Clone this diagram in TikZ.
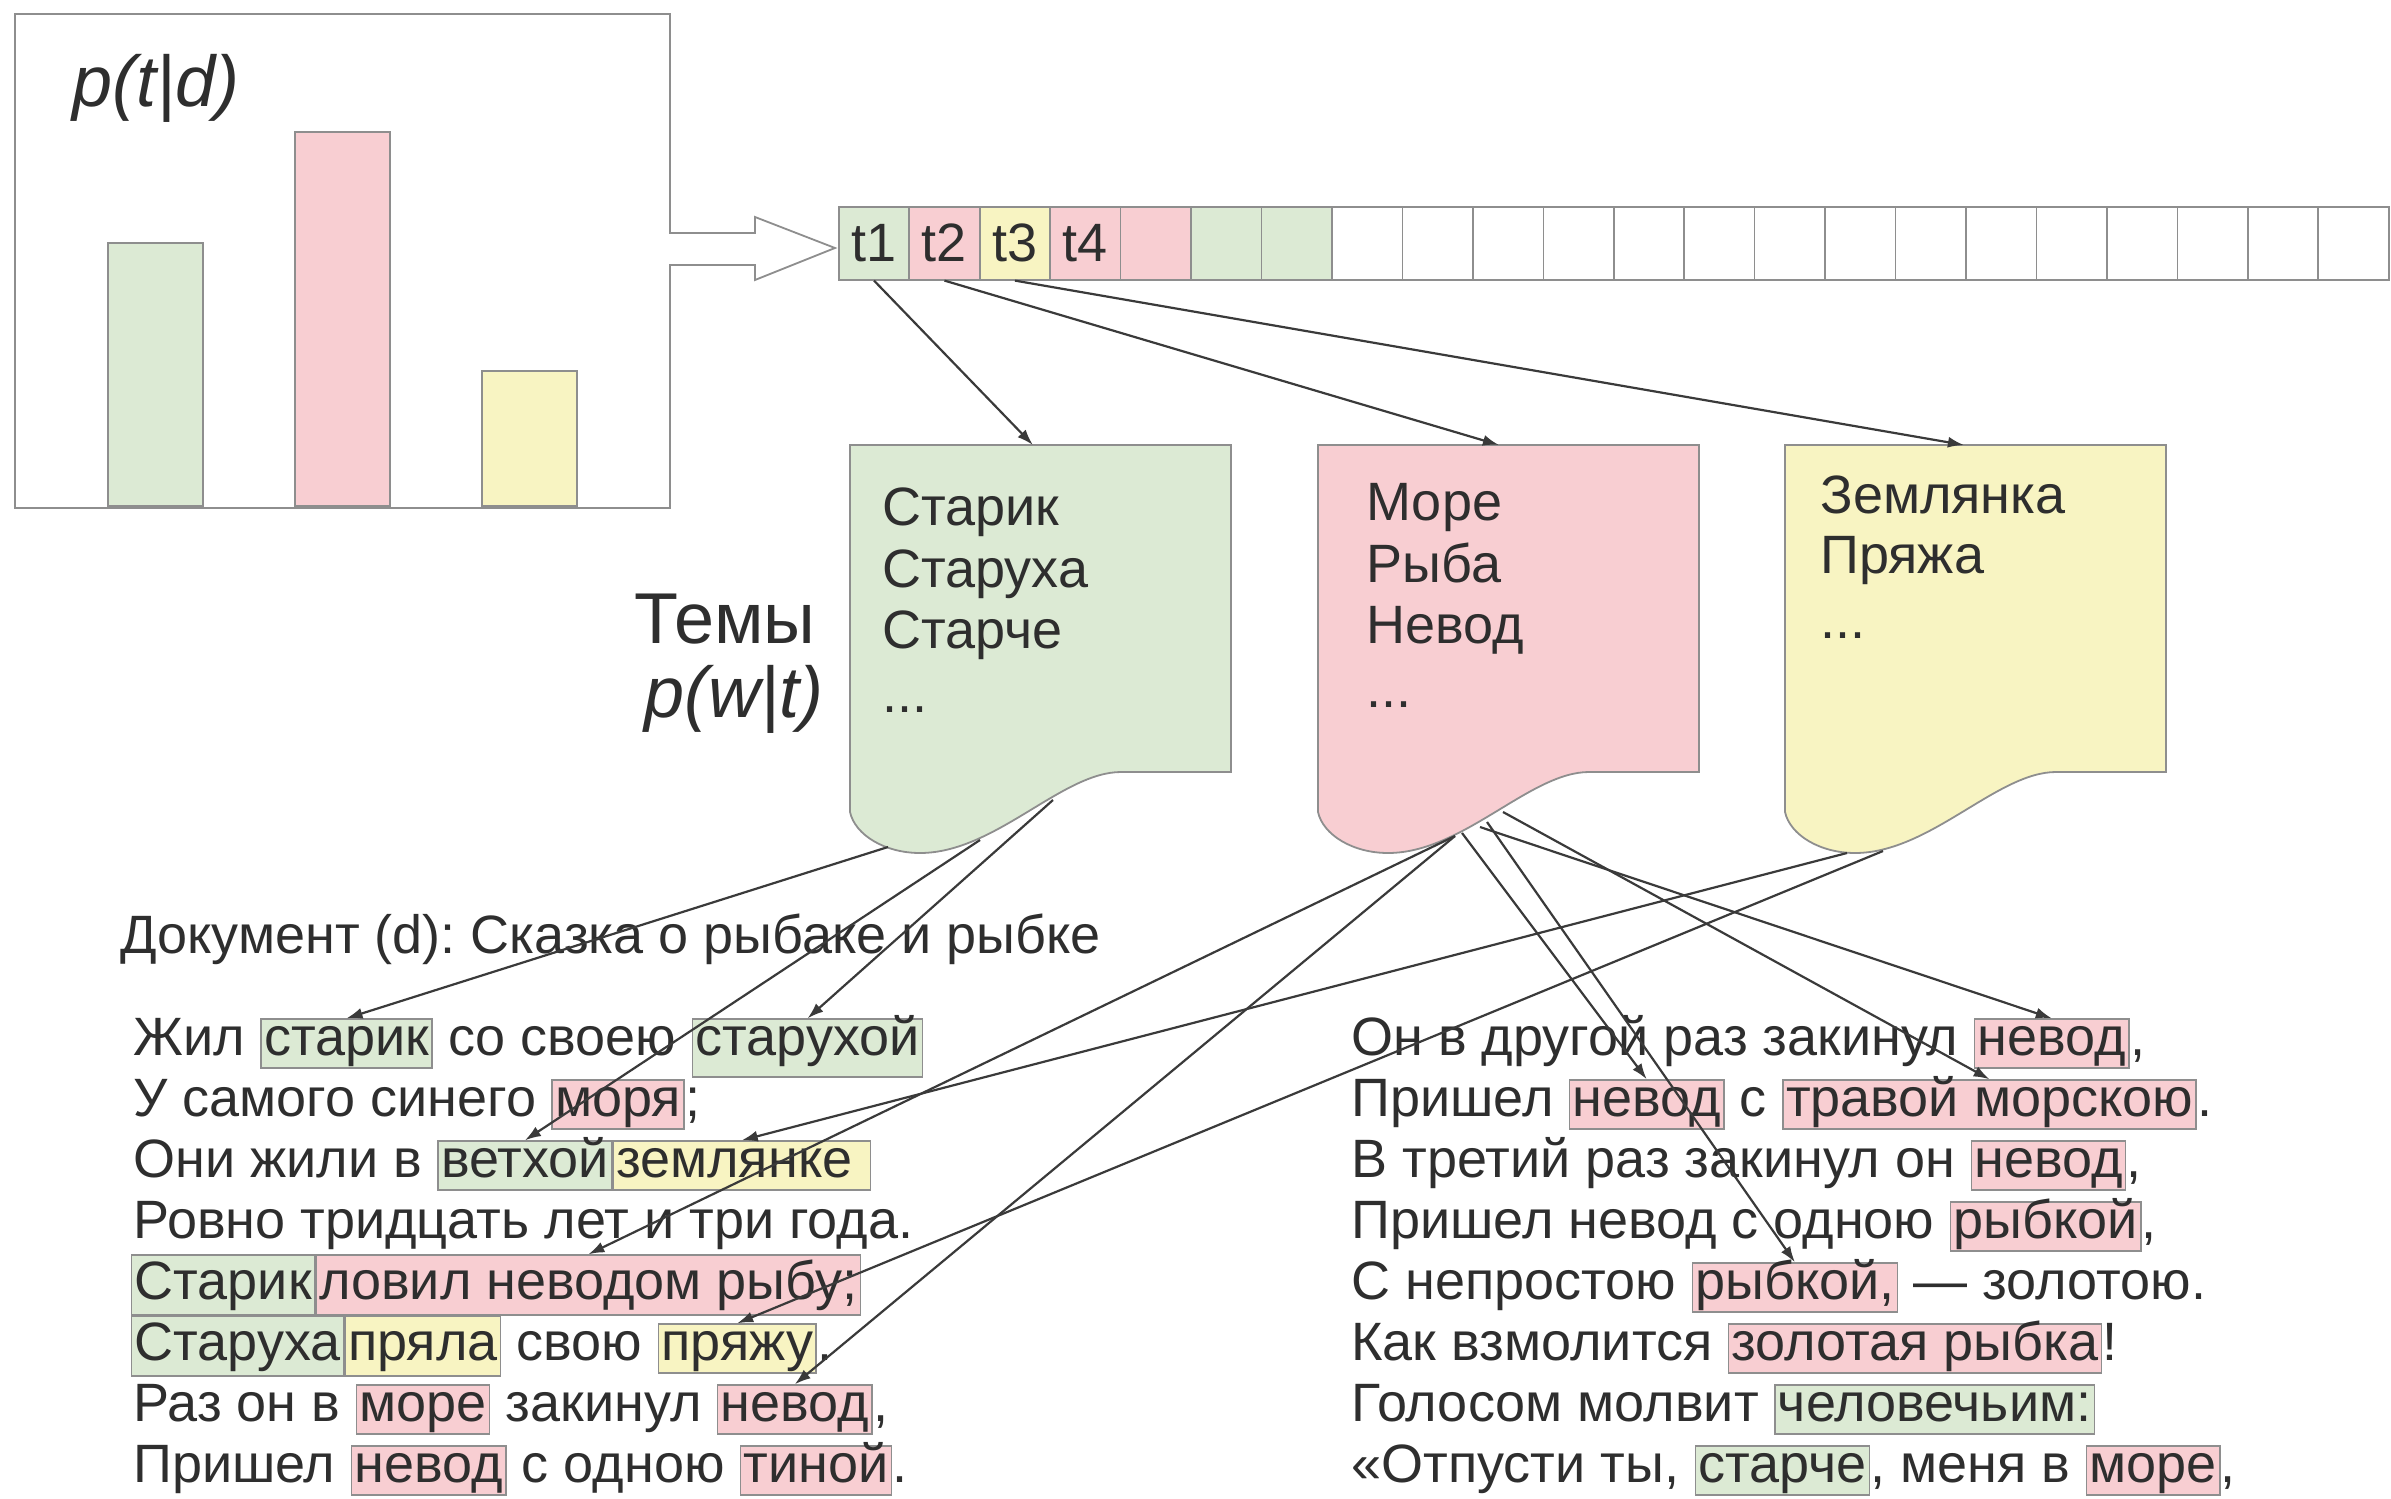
\documentclass[tikz,border=0pt]{standalone}
\usepackage{fontspec}
\setmainfont{Liberation Sans}
\usetikzlibrary{arrows.meta,calc}
\definecolor{lgreen}{HTML}{DCEAD4}
\definecolor{lpink}{HTML}{F8CED2}
\definecolor{lyellow}{HTML}{F8F4C2}
\definecolor{bgray}{HTML}{8E8E8E}
\definecolor{ink}{HTML}{2E2E2E}
\definecolor{arr}{HTML}{3A3A3A}
\newcommand\myfs{\fontsize{27}{31}\selectfont\frenchspacing}
\newcommand\bigfs{\fontsize{36}{42}\selectfont}
\newcommand\tsp{\ \null}
\newcommand\topicdoc[2]{%
  \draw[docline, fill=#2] (#1,445) -- ({#1+381},445) -- ({#1+381},772) -- ({#1+271},772)
    .. controls ({#1+212},772) and ({#1+145},853) .. ({#1+70},853)
    .. controls ({#1+35},853) and ({#1+5},835) .. (#1,812) -- cycle;}
\begin{document}
\frenchspacing
\begin{tikzpicture}[x=0.5pt,y=-0.5pt,
  txt/.style={inner sep=0pt, anchor=base west, font=\myfs, text=ink},
  hl/.style={txt, draw=bgray, line width=0.7pt, inner xsep=1.5pt, text height=18pt, text depth=6.5pt},
  hg/.style={hl, fill=lgreen}, hp/.style={hl, fill=lpink}, hy/.style={hl, fill=lyellow},
  tall/.style={text height=22pt, text depth=8pt},
  link/.style={draw=arr, line width=1.1pt, -{Latex[length=8pt,width=5.5pt]}},
  docline/.style={draw=bgray, line width=0.9pt},
  bar/.style={draw=bgray, line width=0.8pt, minimum width=47.5pt, inner sep=0pt, anchor=south west},
  cell/.style={draw=bgray, line width=0.8pt, minimum width=35.22pt, minimum height=36.5pt, inner sep=0pt, anchor=north west, font=\myfs, text=ink},
  big/.style={inner sep=0pt, font=\bigfs, text=ink},
]
\useasboundingbox (0,0) rectangle (2391,1498);
% histogram
\node[bar, fill=lgreen, minimum height=131.5pt] (barG) at (107,507) {};
\node[bar, fill=lpink, minimum height=187pt] (barP) at (294,507) {};
\node[bar, fill=lyellow, minimum height=67.5pt] (barY) at (481,507) {};
\node[draw=bgray, line width=1.2pt, minimum width=327.5pt, minimum height=247pt, inner sep=0pt, anchor=north west] (hist) at (14,13) {};
\node[big, anchor=base west, font=\bigfs\itshape] (ptd) at (72,107) {p(t|d)};
% hollow arrow
\draw[docline, fill=white] (669,233) -- (755,233) -- (755,217) -- (835,248) -- (755,280) -- (755,265) -- (669,265);
% cells
\foreach \i/\c/\t in {1/lgreen/t1,2/lpink/t2,3/lyellow/t3,4/lpink/t4,5/lpink/{},6/lgreen/{},7/lgreen/{}}
  \node[cell, fill=\c] (c\i) at ({838+70.45*(\i-1)},206) {\t};
\foreach \i in {8,...,22}
  \node[cell, fill=white] (c\i) at ({838+70.45*(\i-1)},206) {};
% topic documents
\topicdoc{850}{lgreen}
\topicdoc{1318}{lpink}
\topicdoc{1785}{lyellow}
\node[inner sep=0pt, minimum width=190.5pt, minimum height=163.5pt, anchor=north west] (docG) at (850,445) {};
\node[inner sep=0pt, minimum width=190.5pt, minimum height=163.5pt, anchor=north west] (docP) at (1318,445) {};
\node[inner sep=0pt, minimum width=190.5pt, minimum height=163.5pt, anchor=north west] (docY) at (1785,445) {};
\node[txt] (g1) at (882,525) {Старик};
\node[txt] (g2) at (882,587) {Старуха};
\node[txt] (g3) at (882,648) {Старче};
\node[txt] (g4) at (882,712) {...};
\node[txt] (p1) at (1366,520) {Море};
\node[txt] (p2) at (1366,582) {Рыба};
\node[txt] (p3) at (1366,643) {Невод};
\node[txt] (p4) at (1366,707) {...};
\node[txt] (y1) at (1820,513) {Землянка};
\node[txt] (y2) at (1820,573) {Пряжа};
\node[txt] (y3) at (1820,638) {...};
\node[big, anchor=base east] (temy) at (816,643) {Темы};
\node[big, anchor=base east, font=\bigfs\itshape] (pwt) at (824,717) {p(w|t)};
% document text
\node[txt] (title) at (120,953) {Документ (d): Сказка о рыбаке и рыбке};
% left column
\node[txt] (L1a) at (133,1055) {Жил\tsp};
\node[hg] (L1b) at (L1a.base east) {старик};
\node[txt] (L1c) at (L1b.base east) {\ со своею\tsp};
\node[hg, text depth=11pt] (L1d) at (L1c.base east) {старухой};
\node[txt] (L2a) at (133,1116) {У самого синего\tsp};
\node[hp] (L2b) at (L2a.base east) {моря};
\node[txt] (L2c) at (L2b.base east) {;};
\node[txt] (L3a) at (133,1177) {Они жили в\tsp};
\node[hg] (L3b) at (L3a.base east) {ветхой};
\node[hy] (L3c) at (L3b.base east) {землянке\tsp};
\node[txt] (L4a) at (133,1238) {Ровно тридцать лет и три года.};
\node[hg, tall] (L5a) at (131,1299) {Старик};
\node[hp, tall] (L5b) at (L5a.base east) {ловил неводом рыбу;};
\node[hg, tall] (L6a) at (131,1360) {Старуха};
\node[hy, tall] (L6b) at (L6a.base east) {пряла};
\node[txt] (L6c) at (L6b.base east) {\ свою\tsp};
\node[hy] (L6d) at (L6c.base east) {пряжу};
\node[txt] (L6e) at (L6d.base east) {.};
\node[txt] (L7a) at (133,1421) {Раз он в\tsp};
\node[hp] (L7b) at (L7a.base east) {море};
\node[txt] (L7c) at (L7b.base east) {\ закинул\tsp};
\node[hp] (L7d) at (L7c.base east) {невод};
\node[txt] (L7e) at (L7d.base east) {,};
\node[txt] (L8a) at (133,1482) {Пришел\tsp};
\node[hp] (L8b) at (L8a.base east) {невод};
\node[txt] (L8c) at (L8b.base east) {\ с одною\tsp};
\node[hp] (L8d) at (L8c.base east) {тиной};
\node[txt] (L8e) at (L8d.base east) {.};
% right column
\node[txt] (R1a) at (1351,1055) {Он в другой раз закинул\tsp};
\node[hp] (R1b) at (R1a.base east) {невод};
\node[txt] (R1c) at (R1b.base east) {,};
\node[txt] (R2a) at (1351,1116) {Пришел\tsp};
\node[hp] (R2b) at (R2a.base east) {невод};
\node[txt] (R2c) at (R2b.base east) {\ с\tsp};
\node[hp] (R2d) at (R2c.base east) {травой морскою};
\node[txt] (R2e) at (R2d.base east) {.};
\node[txt] (R3a) at (1351,1177) {В третий раз закинул он\tsp};
\node[hp] (R3b) at (R3a.base east) {невод};
\node[txt] (R3c) at (R3b.base east) {,};
\node[txt] (R4a) at (1351,1238) {Пришел невод с одною\tsp};
\node[hp] (R4b) at (R4a.base east) {рыбкой};
\node[txt] (R4c) at (R4b.base east) {,};
\node[txt] (R5a) at (1351,1299) {С непростою\tsp};
\node[hp] (R5b) at (R5a.base east) {рыбкой,};
\node[txt] (R5c) at (R5b.base east) {\ — золотою.};
\node[txt] (R6a) at (1351,1360) {Как взмолится\tsp};
\node[hp] (R6b) at (R6a.base east) {золотая рыбка};
\node[txt] (R6c) at (R6b.base east) {!};
\node[txt] (R7a) at (1351,1421) {Голосом молвит\tsp};
\node[hg] (R7b) at (R7a.base east) {человечьим:};
\node[txt] (R8a) at (1351,1482) {«Отпусти ты,\tsp};
\node[hg] (R8b) at (R8a.base east) {старче};
\node[txt] (R8c) at (R8b.base east) {,\ меня в\tsp};
\node[hp] (R8d) at (R8c.base east) {море};
\node[txt] (R8e) at (R8d.base east) {,};
% link origins on the topic documents
\coordinate (gA) at (888,847);
\coordinate (gB) at (980,840);
\coordinate (gC) at (1053,800);
\coordinate (pA) at (1455,836);
\coordinate (pB) at (1462,833);
\coordinate (pC) at (1480,827);
\coordinate (pD) at (1487,822);
\coordinate (pE) at (1503,812);
\coordinate (yA) at (1847,853);
\coordinate (yB) at (1883,851);
% links
\draw[link] (c1.south) -- ([xshift=-4pt]docG.north);
\draw[link] (c2.south) -- ([xshift=-5pt]docP.north);
\draw[link] (c3.south) -- ([xshift=-6pt]docY.north);
\draw[link] (gA) -- (L1b.north);
\draw[link] (gB) -- (L3b.north);
\draw[link] (gC) -- (L1d.north);
\draw[link] (pA) -- (L5b.north);
\draw[link] (pA) -- (L7d.north);
\draw[link] (pB) -- (R2b.north);
\draw[link] (pC) -- (R1b.north);
\draw[link] (pD) -- (R5b.north);
\draw[link] (pE) -- (R2d.north);
\draw[link] (yA) -- (L3c.north);
\draw[link] (yB) -- (L6d.north);
\end{tikzpicture}
\end{document}
